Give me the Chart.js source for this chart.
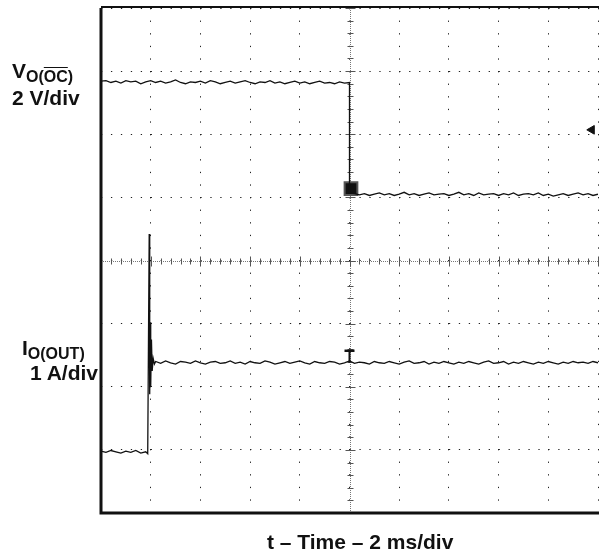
<!DOCTYPE html>
<html>
<head>
<meta charset="utf-8">
<script src="https://cdn.jsdelivr.net/npm/chart.js@4.4.1/dist/chart.umd.min.js"></script>
<style>
  body { margin: 0; background: #fff; overflow: hidden; }
  #wrap { position: relative; width: 599px; height: 552px; }
  #scope { position: absolute; left: 0; top: 0; }
  .lbl { position: absolute; font-family: "Liberation Sans", Arial, sans-serif; font-weight: bold; font-size: 21px; line-height: 21px; color: #111; white-space: nowrap; }
  .lbl sub { font-size: 16px; vertical-align: -4px; }
  .ov { text-decoration: overline; }
</style>
</head>
<body>
<div id="wrap">
  <canvas id="scope" width="599" height="552"></canvas>
  <div class="lbl" style="left:12px; top:60px;">V<sub>O(<span class="ov">OC</span>)</sub><br>2 V/div</div>
  <div class="lbl" style="left:22px; top:337px;">I<sub>O(OUT)</sub></div>
  <div class="lbl" style="left:0; width:98px; text-align:right; top:362px;">1 A/div</div>
  <div class="lbl" style="left:267px; top:531px;">t &ndash; Time &ndash; 2 ms/div</div>
</div>
<script>
// sample spacing of the traces (ms)
const step = 0.2;

// V(OC) trace in divisions, before and after the fault (t = 0..10 ms, 10..20 ms)
const vPre = [2.84, 2.85, 2.82, 2.84, 2.81, 2.85, 2.83, 2.84, 2.80, 2.83,
  2.85, 2.82, 2.84, 2.81, 2.83, 2.86, 2.82, 2.80, 2.83, 2.82,
  2.84, 2.81, 2.85, 2.83, 2.80, 2.82, 2.84, 2.81, 2.83, 2.85,
  2.82, 2.80, 2.83, 2.82, 2.85, 2.81, 2.83, 2.80, 2.82, 2.84,
  2.81, 2.83, 2.80, 2.82, 2.84, 2.81, 2.82, 2.80, 2.83, 2.81, 2.82];
const vPost = [1.07, 1.06, 1.04, 1.06, 1.03, 1.05, 1.07, 1.04, 1.06, 1.03,
  1.05, 1.08, 1.04, 1.06, 1.03, 1.05, 1.07, 1.04, 1.05, 1.06,
  1.03, 1.05, 1.08, 1.04, 1.06, 1.03, 1.07, 1.04, 1.05, 1.06,
  1.03, 1.06, 1.04, 1.07, 1.03, 1.05, 1.06, 1.04, 1.07, 1.03,
  1.05, 1.02, 1.04, 1.06, 1.03, 1.05, 1.07, 1.04, 1.06, 1.03, 1.05];

// I(OUT) trace in divisions: before the step (t = 0..1.8 ms), the step, after (t = 2.2..20 ms)
const iPre = [-3.02, -3.04, -3.01, -3.03, -3.05, -3.02, -3.04, -3.01, -3.05, -3.03];
const iStepT = [1.88, 1.91, 1.94, 1.96, 1.98, 2.0, 2.03, 2.06, 2.1, 2.15];
const iStepV = [-3.06, -1.3, 0.42, -2.12, -0.98, -2.0, -1.25, -1.75, -1.55, -1.64];
const iPostStart = 2.2;
const iPost = [-1.60, -1.63, -1.59, -1.62, -1.64, -1.60, -1.61, -1.63, -1.59, -1.62,
  -1.64, -1.61, -1.60, -1.63, -1.62, -1.59, -1.63, -1.61, -1.64, -1.60,
  -1.62, -1.63, -1.59, -1.61, -1.64, -1.62, -1.60, -1.63, -1.61, -1.59,
  -1.62, -1.64, -1.60, -1.62, -1.63, -1.60, -1.61, -1.64, -1.62, -1.59,
  -1.63, -1.61, -1.62, -1.64, -1.60, -1.62, -1.63, -1.60, -1.62, -1.64,
  -1.61, -1.59, -1.63, -1.62, -1.60, -1.64, -1.61, -1.63, -1.60, -1.62,
  -1.64, -1.61, -1.63, -1.60, -1.62, -1.64, -1.61, -1.59, -1.63, -1.62,
  -1.60, -1.64, -1.61, -1.63, -1.60, -1.62, -1.64, -1.61, -1.63, -1.60,
  -1.62, -1.64, -1.61, -1.63, -1.60, -1.62, -1.61, -1.63, -1.60, -1.62];

// scope markers: trigger point, channel marker, trigger level
const trigMark = [{ x: 10.06, y: 1.14 }];
const chanMark = [{ x: 10.0, y: -1.43 }, { x: 10.0, y: -1.62 }];
const levelMark = [{ x: 19.75, y: 2.07 }];

// build point lists
const vData = [];
vPre.forEach((v, i) => vData.push({ x: i * step, y: v }));
vPost.forEach((v, i) => vData.push({ x: 10 + i * step, y: v }));

const iData = [];
iPre.forEach((v, i) => iData.push({ x: i * step, y: v }));
iStepT.forEach((t, i) => iData.push({ x: t, y: iStepV[i] }));
iPost.forEach((v, i) => iData.push({ x: iPostStart + i * step, y: v }));

// center cross with fine ticks + frame
const scopeGrid = {
  id: 'scopeGrid',
  beforeDatasetsDraw(chart) {
    const { ctx, chartArea: a } = chart;
    const xs = chart.scales.x, ys = chart.scales.y;
    const cx = Math.round(xs.getPixelForValue(10)) + 0.5;
    const cy = Math.round(ys.getPixelForValue(0)) + 0.5;
    ctx.save();
    ctx.strokeStyle = '#777';
    ctx.lineWidth = 1;
    ctx.setLineDash([1, 1]);
    ctx.beginPath();
    ctx.moveTo(a.left, cy); ctx.lineTo(a.right, cy);
    ctx.moveTo(cx, a.top); ctx.lineTo(cx, a.bottom);
    ctx.stroke();
    ctx.setLineDash([]);
    ctx.strokeStyle = '#555';
    ctx.beginPath();
    for (let i = 0; i <= 50; i++) {
      const x = Math.round(xs.getPixelForValue(i * 0.4)) + 0.5;
      const h = i % 5 === 0 ? 5 : 3;
      ctx.moveTo(x, cy - h); ctx.lineTo(x, cy + h);
    }
    for (let i = 0; i <= 40; i++) {
      const y = Math.round(ys.getPixelForValue(-4 + i * 0.2)) + 0.5;
      const w = i % 5 === 0 ? 5 : 3;
      ctx.moveTo(cx - w, y); ctx.lineTo(cx + w, y);
    }
    ctx.stroke();
    ctx.restore();
  },
  afterDatasetsDraw(chart) {
    const { ctx, chartArea: a } = chart;
    ctx.save();
    ctx.strokeStyle = '#111';
    ctx.lineWidth = 3;
    ctx.beginPath();
    ctx.moveTo(a.left, a.top); ctx.lineTo(a.left, a.bottom);
    ctx.lineTo(a.right + 2, a.bottom);
    ctx.stroke();
    ctx.lineWidth = 2;
    ctx.beginPath();
    ctx.moveTo(a.left, a.top - 1); ctx.lineTo(a.right + 2, a.top - 1);
    ctx.stroke();
    ctx.restore();
  }
};

const ctx = document.getElementById('scope').getContext('2d');
const scopeChart = new Chart(ctx, {
  type: 'line',
  data: {
    datasets: [
      { label: 'V(OC)', data: vData, borderColor: '#111', borderWidth: 1.3, pointRadius: 0 },
      { label: 'I(OUT)', data: iData, borderColor: '#111', borderWidth: 1.3, pointRadius: 0 },
      { label: 'trigger', data: trigMark, showLine: false, pointStyle: 'rect', pointRadius: 9,
        pointBackgroundColor: '#111', pointBorderColor: '#555', pointBorderWidth: 2 },
      { label: 'marker', data: chanMark, borderColor: '#111', borderWidth: 2,
        pointStyle: 'line', pointRadius: [5, 0], pointBorderColor: '#111', pointBorderWidth: 2.5 },
      { label: 'level', data: levelMark, showLine: false, pointStyle: 'triangle', rotation: -90,
        pointRadius: 5, pointBackgroundColor: '#111', pointBorderColor: '#111', clip: false }
    ]
  },
  options: {
    responsive: false,
    animation: false,
    events: [],
    layout: { autoPadding: false, padding: { left: 101, right: 1, top: 8, bottom: 39 } },
    plugins: { legend: { display: false }, tooltip: { enabled: false } },
    scales: {
      x: {
        type: 'linear', min: 0, max: 20,
        ticks: { display: false, stepSize: 2 },
        grid: { color: '#222', lineWidth: 1, drawTicks: false },
        border: { display: false, dash: [1.3, 11.3] }
      },
      y: {
        min: -4, max: 4,
        ticks: { display: false, stepSize: 1 },
        grid: { color: '#222', lineWidth: 1, drawTicks: false },
        border: { display: false, dash: [1.3, 8.64] }
      }
    }
  },
  plugins: [scopeGrid]
});
</script>
</body>
</html>
